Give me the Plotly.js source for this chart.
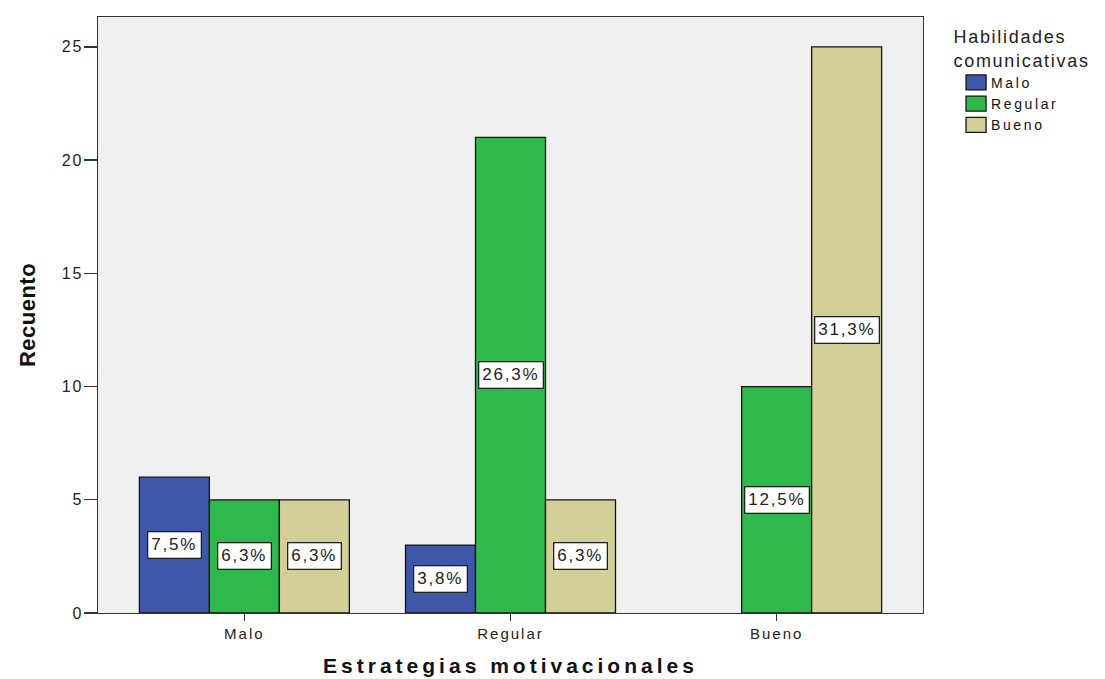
<!DOCTYPE html>
<html><head><meta charset="utf-8">
<script src="https://cdn.plot.ly/plotly-3.0.1.min.js"></script>
<style>
html,body{margin:0;padding:0;background:#fff;}
#chart{width:1105px;height:679px;}
.xtitle{letter-spacing:4px;}
.ytitle{letter-spacing:0.5px;}
.legendtitletext{letter-spacing:1.7px;}
.legendtext{letter-spacing:2.6px;}
.xtick text{letter-spacing:2px;}
.ytick text{letter-spacing:2px;}
.annotation-text{letter-spacing:1.8px;}
.legendpoints path{transform: translate(25px,0px) scale(1.67,1.25) !important; vector-effect: non-scaling-stroke;}
</style></head><body><div id="chart"></div>
<script>
const categories = ['Malo', 'Regular', 'Bueno'];
const seriesNames = ['Malo', 'Regular', 'Bueno'];
const countsMalo = [6, 3, 0];
const countsRegular = [5, 21, 10];
const countsBueno = [5, 5, 25];
const pctMalo = ['7,5%', '3,8%', ''];
const pctRegular = ['6,3%', '26,3%', '12,5%'];
const pctBueno = ['6,3%', '6,3%', '31,3%'];
const yTicks = [0, 5, 10, 15, 20, 25];

const seriesCounts = [countsMalo, countsRegular, countsBueno];
const seriesPct = [pctMalo, pctRegular, pctBueno];
const colors = ['#3f57a9', '#2fb84b', '#d3cf98'];
const bargap = 0.211;
const barW = (1 - bargap) / seriesNames.length;

const FONT = 'Liberation Sans, Arial, sans-serif';

const traces = seriesNames.map((name, j) => ({
  type: 'bar',
  name: name,
  x: categories,
  y: seriesCounts[j],
  marker: {
    color: colors[j],
    line: {color: '#151515', width: seriesCounts[j].map(v => v > 0 ? 1.3 : 0)}
  },
  hoverinfo: 'x+y+name'
}));

const annotations = [];
seriesNames.forEach((name, j) => {
  seriesCounts[j].forEach((v, i) => {
    if (v > 0 && seriesPct[j][i]) {
      annotations.push({
        x: i + (j - (seriesNames.length - 1) / 2) * barW,
        y: v / 2,
        xref: 'x', yref: 'y',
        text: seriesPct[j][i],
        showarrow: false,
        bgcolor: '#ffffff',
        bordercolor: '#222222',
        borderwidth: 1.3,
        borderpad: 3,
        font: {family: FONT, size: 17, color: '#222'}
      });
    }
  });
});

const layout = {
  width: 1105, height: 679,
  margin: {l: 98, r: 182, t: 17, b: 66},
  paper_bgcolor: '#ffffff',
  plot_bgcolor: '#f0f0f0',
  barmode: 'group',
  bargap: bargap,
  bargroupgap: 0,
  font: {family: FONT, color: '#222'},
  showlegend: true,
  legend: {
    x: 1.034, xanchor: 'left', y: 0.995, yanchor: 'top',
    title: {text: 'Habilidades<br>comunicativas', side: 'top center', font: {family: FONT, size: 18, color: '#222'}},
    font: {family: FONT, size: 14, color: '#111'},
    bgcolor: 'rgba(0,0,0,0)',
    tracegroupgap: 0,
    itemwidth: 30
  },
  xaxis: {
    type: 'category',
    range: [-0.55, 2.55],
    showline: true, mirror: true, linecolor: '#333', linewidth: 1.3,
    ticks: 'outside', ticklen: 7, tickcolor: '#333', tickwidth: 1.3,
    tickfont: {family: FONT, size: 15, color: '#222'},
    showgrid: false, zeroline: false,
    title: {text: 'Estrategias motivacionales', font: {family: FONT, size: 21, color: '#111', weight: 'bold'}, standoff: 17}
  },
  yaxis: {
    range: [0, 26.32],
    tickvals: yTicks,
    showline: true, mirror: true, linecolor: '#333', linewidth: 1.3,
    ticks: 'outside', ticklen: 13, tickcolor: '#333', tickwidth: 1.3,
    ticklabelstandoff: -3,
    tickfont: {family: FONT, size: 16, color: '#222'},
    showgrid: false, zeroline: false,
    title: {text: 'Recuento', font: {family: FONT, size: 22, color: '#111', weight: 'bold'}, standoff: 20}
  },
  annotations: annotations
};

Plotly.newPlot('chart', traces, layout, {displayModeBar: false, staticPlot: true});
</script></body></html>
